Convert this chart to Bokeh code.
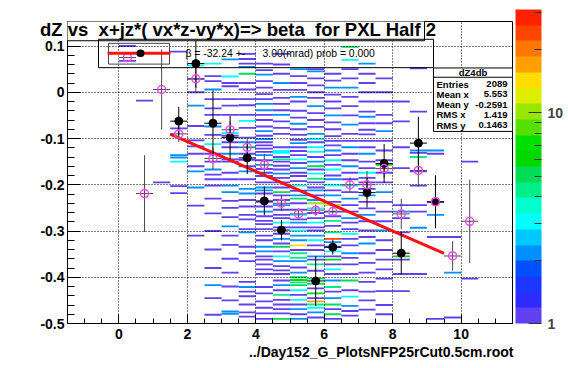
import numpy as np
from bokeh.plotting import figure
from bokeh.models import (ColumnDataSource, LogColorMapper, ColorBar, FixedTicker,
                          Label, BoxAnnotation, Range1d)
from bokeh.embed import file_html
from bokeh.resources import INLINE

# ---------------- data ----------------
NB = "\u00a0"
title_text = "dZ vs " + NB + "x+jz*( vx*z-vy*x)=> beta " + NB + "for PXL Half 2"
file_text = "../Day152_G_PlotsNFP25rCut0.5cm.root"
legend_text = "\u03b2 = -32.24 +-" + " " + NB * 5 + "3.00(mrad) prob = 0.000"
stats_name = "dZ4db"
stats_keys = ["Entries", "Mean x", "Mean y", "RMS x", "RMS y"]
stats_vals = ["2089", "5.553", "-0.2591", "1.419", "0.1463"]

x_ticks = [0, 2, 4, 6, 8, 10]
y_ticks = [-0.5, -0.4, -0.3, -0.2, -0.1, 0, 0.1]
y_tick_labels = ["-0.5", "-0.4", "-0.3", "-0.2", "-0.1", "0", "0.1"]
z_ticks = [1, 10]
z_min, z_max = 1, 31

x_bin_width = 0.5
y_bin_height = 0.004

# 2D histogram: per x-bin (centre) the y-bin centres and counts
col_0p25_y = [0.100, 0.068]
col_0p25_n = [1, 1]
col_0p75_y = [-0.018]
col_0p75_n = [1]
col_1p25_y = [-0.195]
col_1p25_n = [1]
col_1p75_y = [0.088, -0.078, -0.136, -0.141, -0.150, -0.203, -0.218]
col_1p75_n = [1, 1, 2, 2, 3, 1, 1]
col_2p25_y = [0.058, 0.029, 0.000, -0.029, -0.073, -0.104, -0.117, -0.133, -0.160, -0.171, -0.206, -0.245, -0.310]
col_2p25_n = [3, 1, 1, 2, 1, 1, 1, 1, 1, 2, 2, 1, 1]
col_2p75_y = [0.062, 0.035, 0.024, 0.006, -0.015, -0.035, -0.049, -0.074, -0.092, -0.112, -0.133, -0.150,
              -0.167, -0.178, -0.188, -0.202, -0.230, -0.262, -0.300, -0.340, -0.380, -0.417, -0.445, -0.481]
col_2p75_n = [3, 1, 1, 2, 1, 1, 1, 2, 1, 3, 1, 1, 2, 1, 1, 1, 1, 1, 1, 1, 1, 2, 1, 1]
col_3p25_y = [0.071, 0.034, 0.020, 0.013, -0.015, -0.029, -0.049, -0.088, -0.094, -0.108, -0.119, -0.133,
              -0.145, -0.150, -0.174, -0.188, -0.202, -0.216, -0.235, -0.250, -0.270, -0.290, -0.310, -0.330,
              -0.360, -0.390, -0.420, -0.450, -0.474, -0.479]
col_3p25_n = [2, 3, 1, 1, 1, 1, 1, 3, 1, 1, 1, 2, 1, 1, 1, 1, 2, 2, 1, 1, 1, 2, 1, 1, 1, 1, 1, 1, 2, 2]
col_3p75_y = [0.083, 0.072, 0.062, 0.055, 0.040, 0.020, 0.006, -0.015, -0.028, -0.049, -0.062, -0.077,
              -0.098, -0.108, -0.119, -0.133, -0.146, -0.160, -0.171, -0.188, -0.209, -0.219, -0.233, -0.247,
              -0.265, -0.275, -0.296, -0.303, -0.334, -0.348, -0.365, -0.410, -0.421, -0.431, -0.441, -0.459,
              -0.476, -0.485]
col_3p75_n = [1, 1, 1, 2, 5, 1, 1, 1, 1, 1, 3, 1, 1, 2, 3, 1, 1, 1, 2, 1, 2, 2, 1, 1, 1, 1, 1, 2, 1, 1,
              1, 1, 2, 1, 1, 1, 1, 1]
col_4p25_y = [0.062, 0.048, 0.038, 0.024, 0.010, -0.004, -0.015, -0.025, -0.039, -0.049,
              -0.060, -0.074, -0.084, -0.094, -0.101, -0.108, -0.115, -0.122, -0.129, -0.136,
              -0.147, -0.157, -0.166, -0.174, -0.181, -0.195, -0.206, -0.212, -0.219, -0.237,
              -0.247, -0.258, -0.268, -0.278, -0.285, -0.296, -0.310, -0.320, -0.334, -0.344,
              -0.355, -0.362, -0.372, -0.383, -0.393, -0.421, -0.435, -0.452, -0.466, -0.478, -0.490]
col_4p25_n = [1, 1, 2, 1, 1, 1, 1, 2, 2, 1, 1, 1, 2, 1, 2, 1, 1, 1, 1, 2, 1, 3, 1, 1, 1, 1, 2, 2, 1, 1,
              1, 2, 1, 1, 1, 1, 1, 1, 2, 2, 1, 1, 1, 1, 1, 1, 1, 1, 1, 1, 1]
col_4p75_y = [0.083, 0.060, 0.040, 0.020, 0.005, -0.012, -0.025, -0.039, -0.049, -0.063,
              -0.077, -0.090, -0.119, -0.127, -0.131, -0.140, -0.145, -0.150, -0.159, -0.167,
              -0.176, -0.185, -0.195, -0.206, -0.216, -0.223, -0.233, -0.244, -0.254, -0.265,
              -0.272, -0.282, -0.292, -0.306, -0.317, -0.327, -0.334, -0.344, -0.355, -0.365,
              -0.376, -0.385, -0.393, -0.407, -0.417, -0.428, -0.438, -0.449, -0.459, -0.469, -0.478, -0.490]
col_4p75_n = [1, 1, 1, 2, 1, 1, 1, 1, 2, 1, 1, 1, 1, 3, 3, 1, 4, 1, 1, 1, 2, 1, 1, 1, 5, 1, 1, 2, 1, 1,
              1, 3, 1, 1, 2, 1, 5, 1, 3, 2, 1, 1, 1, 1, 2, 1, 4, 1, 1, 1, 1, 5]
col_5p25_y = [0.050, 0.035, 0.020, 0.005, -0.010, -0.020, -0.040, -0.055, -0.068, -0.080,
              -0.092, -0.103, -0.110, -0.119, -0.127, -0.136, -0.145, -0.153, -0.164, -0.174,
              -0.181, -0.192, -0.202, -0.213, -0.223, -0.230, -0.240, -0.254, -0.265, -0.275,
              -0.282, -0.292, -0.299, -0.310, -0.320, -0.331, -0.341, -0.348, -0.358, -0.365,
              -0.379, -0.390, -0.400, -0.406, -0.411, -0.417, -0.428, -0.438, -0.449, -0.459,
              -0.469, -0.480, -0.490]
col_5p25_n = [2, 1, 1, 1, 2, 1, 1, 1, 2, 1, 1, 1, 2, 1, 1, 1, 3, 1, 2, 1, 1, 1, 3, 1, 2, 5, 1, 1, 3, 1,
              2, 1, 3, 2, 2, 14, 1, 4, 4, 2, 1, 2, 5, 6, 4, 5, 3, 1, 3, 1, 2, 1, 2]
col_5p75_y = [0.050, 0.045, 0.030, 0.015, 0.000, -0.012, -0.030, -0.045, -0.060, -0.075,
              -0.090, -0.101, -0.108, -0.119, -0.129, -0.140, -0.150, -0.160, -0.167, -0.176,
              -0.187, -0.195, -0.206, -0.212, -0.223, -0.233, -0.240, -0.251, -0.261, -0.272,
              -0.282, -0.292, -0.299, -0.310, -0.320, -0.331, -0.341, -0.355, -0.362, -0.372,
              -0.386, -0.403, -0.414, -0.424, -0.435, -0.445, -0.452, -0.459, -0.466, -0.476, -0.487]
col_5p75_n = [1, 2, 1, 1, 1, 1, 2, 1, 1, 1, 2, 3, 1, 3, 3, 1, 2, 5, 1, 3, 4, 1, 1, 2, 1, 2, 10, 3, 1, 1,
              3, 1, 1, 2, 3, 1, 1, 2, 1, 4, 1, 5, 5, 1, 6, 1, 18, 4, 3, 2, 1]
col_6p25_y = [0.040, 0.025, 0.010, -0.005, -0.020, -0.035, -0.050, -0.065, -0.080, -0.095,
              -0.105, -0.115, -0.126, -0.136, -0.147, -0.157, -0.167, -0.180, -0.188, -0.201,
              -0.212, -0.223, -0.237, -0.244, -0.258, -0.268, -0.278, -0.289, -0.303, -0.317,
              -0.324, -0.334, -0.344, -0.355, -0.362, -0.372, -0.383, -0.393, -0.407, -0.421,
              -0.431, -0.445, -0.459, -0.469, -0.480, -0.490]
col_6p25_n = [1, 1, 2, 1, 1, 1, 2, 1, 1, 1, 1, 1, 2, 1, 3, 1, 3, 1, 2, 3, 1, 2, 1, 10, 2, 1, 4, 1, 4, 22,
              2, 1, 3, 1, 6, 1, 3, 1, 2, 4, 1, 2, 5, 1, 5, 1]
col_6p75_y = [0.098, 0.070, 0.050, 0.030, 0.010, -0.010, -0.030, -0.050, -0.070, -0.090,
              -0.105, -0.119, -0.133, -0.147, -0.160, -0.174, -0.188, -0.202, -0.216, -0.230,
              -0.244, -0.258, -0.272, -0.282, -0.296, -0.306, -0.317, -0.331, -0.348, -0.358,
              -0.372, -0.393, -0.407, -0.428, -0.442, -0.462, -0.473, -0.483]
col_6p75_n = [5, 3, 1, 1, 2, 1, 1, 1, 2, 1, 1, 2, 1, 1, 2, 1, 1, 3, 1, 2, 1, 1, 2, 1, 1, 3, 1, 1, 2, 1,
              1, 1, 5, 1, 3, 2, 1, 1]
col_7p25_y = [0.062, 0.040, 0.020, 0.000, -0.020, -0.042, -0.053, -0.067, -0.081, -0.091,
              -0.105, -0.119, -0.133, -0.150, -0.164, -0.174, -0.185, -0.195, -0.209, -0.223,
              -0.237, -0.251, -0.265, -0.279, -0.299, -0.313, -0.327, -0.348, -0.369, -0.390,
              -0.410, -0.431, -0.450, -0.470]
col_7p25_n = [2, 1, 1, 1, 1, 1, 2, 1, 1, 1, 1, 1, 2, 1, 1, 3, 1, 1, 1, 2, 1, 1, 2, 1, 1, 1, 2, 1, 1, 1,
              1, 1, 1, 1]
col_7p75_y = [0.030, 0.000, -0.020, -0.049, -0.067, -0.084, -0.105, -0.126, -0.147, -0.157,
              -0.174, -0.195, -0.216, -0.237, -0.258, -0.279, -0.299, -0.320, -0.341, -0.362,
              -0.383, -0.403, -0.430, -0.460, -0.480]
col_7p75_n = [1, 1, 1, 1, 1, 2, 1, 1, 1, 6, 1, 1, 2, 1, 1, 1, 2, 1, 1, 1, 1, 1, 1, 1, 1]
col_8p25_y = [-0.020, -0.063, -0.119, -0.164, -0.244, -0.258, -0.272, -0.303, -0.355, -0.362, -0.393, -0.430]
col_8p25_n = [1, 1, 1, 1, 1, 2, 1, 1, 6, 1, 1, 1]
col_8p75_y = [0.052, -0.042, -0.126, -0.131, -0.140, -0.171, -0.202, -0.244, -0.258, -0.293, -0.393]
col_8p75_n = [1, 1, 2, 1, 4, 1, 1, 1, 1, 2, 1]
col_9p25_y = [-0.126, -0.133, -0.237, -0.265, -0.313, -0.490]
col_9p25_n = [2, 1, 1, 2, 1, 1]
col_9p75_y = [-0.313, -0.390, -0.487]
col_9p75_n = [1, 2, 1]
col_10p25_y = [-0.150, -0.403]
col_10p25_n = [1, 1]

hist_columns = [
    (0.25, col_0p25_y, col_0p25_n), (0.75, col_0p75_y, col_0p75_n), (1.25, col_1p25_y, col_1p25_n),
    (1.75, col_1p75_y, col_1p75_n), (2.25, col_2p25_y, col_2p25_n), (2.75, col_2p75_y, col_2p75_n),
    (3.25, col_3p25_y, col_3p25_n), (3.75, col_3p75_y, col_3p75_n), (4.25, col_4p25_y, col_4p25_n),
    (4.75, col_4p75_y, col_4p75_n), (5.25, col_5p25_y, col_5p25_n), (5.75, col_5p75_y, col_5p75_n),
    (6.25, col_6p25_y, col_6p25_n), (6.75, col_6p75_y, col_6p75_n), (7.25, col_7p25_y, col_7p25_n),
    (7.75, col_7p75_y, col_7p75_n), (8.25, col_8p25_y, col_8p25_n), (8.75, col_8p75_y, col_8p75_n),
    (9.25, col_9p25_y, col_9p25_n), (9.75, col_9p75_y, col_9p75_n), (10.25, col_10p25_y, col_10p25_n),
]

# profile (black) points
black_x = [1.75, 2.25, 2.75, 3.25, 3.75, 4.25, 4.75, 5.75, 6.25, 7.25, 7.75, 8.25, 8.75, 9.25]
black_y = [-0.0625, 0.062, -0.067, -0.098, -0.142, -0.235, -0.298, -0.408, -0.335, -0.217, -0.154, -0.348, -0.110, -0.237]
black_err = [0.031, 0.052, 0.071, 0.047, 0.035, 0.031, 0.022, 0.054, 0.016, 0.032, 0.042, 0.046, 0.057, 0.057]
# second profile (magenta open circles)
pink_x = [0.25, 0.75, 1.25, 1.75, 2.25, 2.75, 3.25, 3.75, 4.25, 4.75, 5.25, 5.75, 6.25, 6.75, 7.25, 7.75,
          8.25, 8.75, 9.25, 9.75, 10.25]
pink_y = [0.075, -0.219, 0.006, -0.090, 0.029, -0.143, -0.081, -0.119, -0.157, -0.240, -0.263, -0.255,
          -0.258, -0.200, -0.200, -0.165, -0.263, -0.169, -0.237, -0.354, -0.279]
pink_err = [0.0, 0.083, 0.087, 0.018, 0.031, 0.024, 0.018, 0.021, 0.024, 0.017, 0.012, 0.012,
            0.012, 0.016, 0.030, 0.020, 0.033, 0.035, 0.057, 0.032, 0.090]

# straight-line fit
fit_intercept = -0.0420
fit_slope = -0.03224
fit_xmin, fit_xmax = 1.5, 9.5

# ---------------- layout ----------------
XMIN, XMAX = -1.5, 11.5
YMIN, YMAX = -0.5, 0.153
W, H = 568, 368
FL, FW, FT, FH = 67, 445, 9, 314   # frame left/width/top/height in canvas px

def dx(px):  # canvas pixel -> data x (annotation placement)
    return XMIN + (px - FL) * (XMAX - XMIN) / FW

def dy(py):
    return YMIN + (FT + FH - py) * (YMAX - YMIN) / FH

FONT = "Liberation Sans"

palette = ["#6040f0", "#2c2cff", "#1a36ff", "#0050ff", "#0090ff", "#00c8ff", "#00ffff", "#00ffcc",
           "#00ee88", "#00dd55", "#00d800", "#00e000", "#55e000", "#99e600", "#ddee00", "#ffdd00",
           "#ffa000", "#ff7700", "#ff4400", "#ff2200"]
mapper = LogColorMapper(palette=palette, low=z_min, high=z_max)

p = figure(width=W, height=H, output_backend="svg", toolbar_location=None,
           x_range=Range1d(XMIN, XMAX), y_range=Range1d(YMIN, YMAX),
           min_border_left=FL, min_border_right=W - FL - FW, min_border_top=FT,
           min_border_bottom=H - FT - FH)
p.background_fill_color = "white"
p.border_fill_color = "white"
p.outline_line_color = "black"
p.outline_line_width = 1

hx, hy, hn = [], [], []
for xc, ys, ns in hist_columns:
    for yv, nv in zip(ys, ns):
        hx.append(xc); hy.append(yv); hn.append(nv)
hsrc = ColumnDataSource(dict(x=hx, y=hy, n=hn))
p.rect(x="x", y="y", width=x_bin_width, height=y_bin_height, source=hsrc,
       fill_color={"field": "n", "transform": mapper}, line_color=None, level="underlay")

# axes
p.xaxis.ticker = FixedTicker(ticks=x_ticks, minor_ticks=list(np.arange(-1.5, 11.51, 0.5)))
p.yaxis.ticker = FixedTicker(ticks=y_ticks, minor_ticks=list(np.round(np.arange(-0.5, 0.151, 0.02), 3)))
p.yaxis.major_label_overrides = {v: s for v, s in zip(y_ticks, y_tick_labels)}
for ax in (p.xaxis[0], p.yaxis[0]):
    ax.major_tick_out = 0
    ax.minor_tick_out = 0
    ax.axis_line_color = "black"
    ax.major_tick_line_color = "black"
    ax.minor_tick_line_color = "black"
    ax.major_label_text_font = FONT
    ax.major_label_text_font_style = "bold"
    ax.major_label_text_font_size = "14px"
    ax.major_label_text_color = "black"
p.xaxis.major_tick_in = 9
p.xaxis.minor_tick_in = 5
p.xaxis.major_label_standoff = 5
p.yaxis.major_tick_in = 13
p.yaxis.minor_tick_in = 7
p.yaxis.major_label_standoff = 3

p.xgrid.ticker = FixedTicker(ticks=x_ticks)
p.ygrid.ticker = FixedTicker(ticks=[t for t in y_ticks if t > YMIN])
for g in (p.xgrid[0], p.ygrid[0]):
    g.grid_line_color = "black"
    g.grid_line_dash = "1 2"
    g.grid_line_width = 1
    g.level = "glyph"

# fit line
fx = np.array([fit_xmin, fit_xmax])
p.line(fx, fit_intercept + fit_slope * fx, line_color="#ff1010", line_width=3, level="annotation")

# pink profile
px_ = np.array(pink_x); py_ = np.array(pink_y); pe_ = np.array(pink_err)
p.segment(px_, py_ - pe_, px_, py_ + pe_, line_color="#4a4a4a", line_width=1, level="annotation")
p.segment(px_ - x_bin_width / 2, py_, px_ + x_bin_width / 2, py_, line_color="#4a4a4a", line_width=1,
          level="annotation")
# black profile
bx_ = np.array(black_x); by_ = np.array(black_y); be_ = np.array(black_err)
p.segment(bx_, by_ - be_, bx_, by_ + be_, line_color="black", line_width=1, level="annotation")
p.segment(bx_ - x_bin_width / 2, by_, bx_ + x_bin_width / 2, by_, line_color="black", line_width=1,
          level="annotation")
p.scatter(bx_, by_, size=8, marker="circle", fill_color="black", line_color="black", level="annotation")
p.scatter(px_, py_, size=8, marker="circle", fill_color=None, line_color="#ff44ff", line_width=1.5,
          level="annotation")

# palette
cb = ColorBar(color_mapper=mapper, location=(515 - FL, 0), width=26, height=FH, padding=0,
              ticker=FixedTicker(ticks=z_ticks, minor_ticks=[2, 3, 4, 5, 6, 7, 8, 9, 20, 30]),
              major_tick_in=13, major_tick_out=0, minor_tick_in=7, minor_tick_out=0,
              major_tick_line_color="#333333", minor_tick_line_color="#333333",
              major_label_text_font=FONT, major_label_text_font_style="bold",
              major_label_text_font_size="14px", label_standoff=6,
              bar_line_color=None, border_line_color=None, background_fill_alpha=0)
p.add_layout(cb, "center")

def box(l, r, t, b, fill=None, line="black", lw=1, radius=None, place="center"):
    kw = dict(left=dx(l), right=dx(r), top=dy(t), bottom=dy(b),
              fill_color=fill if fill else "white", fill_alpha=1 if fill else 0,
              line_color=line if line else "white", line_alpha=1 if line else 0,
              line_width=lw, level="annotation")
    if radius is not None:
        kw["border_radius"] = radius
    p.add_layout(BoxAnnotation(**kw), place)

def text(px, py, s, size, bold=False, align="left", place="center"):
    p.add_layout(Label(x=dx(px), y=dy(py), text=s, text_font=FONT, text_font_size=f"{size}px",
                       text_font_style="bold" if bold else "normal", text_align=align,
                       text_baseline="middle", text_color="black", level="annotation"), place)

# legend (fit) box
box(98, 433, 27.5, 57, line="black")
box(108, 169, 31.7, 53.3, line="#444444")
box(107, 170, 40.5, 43.5, fill="#ff1010", line=None)
box(136, 144, 38, 46, fill="black", line=None, radius=4)
text(185, 42.7, legend_text, 10.4)

# title box (reaches outside the frame -> side panel, not clipped)
box(17, 424, 6, 29, fill="white", line="black", place="above")
text(39.5, 17.5, title_text, 18.5, bold=True, place="above")

# stats box
box(433, 512, 57.3, 123.3, fill="white", line="black")
box(433, 512, 66.5, 67.5, fill="black", line=None)
text(472.5, 62, stats_name, 9.5, bold=True, align="center")
for i, (k, v) in enumerate(zip(stats_keys, stats_vals)):
    yy = 74 + i * 10.7
    text(436, yy, k, 9.5, bold=True)
    text(507, yy, v, 9.5, bold=True, align="right")

# x-axis title (file name)
text(513, 353, file_text, 14, bold=True, align="right", place="below")

open("out.html", "w").write(file_html(p, INLINE))
